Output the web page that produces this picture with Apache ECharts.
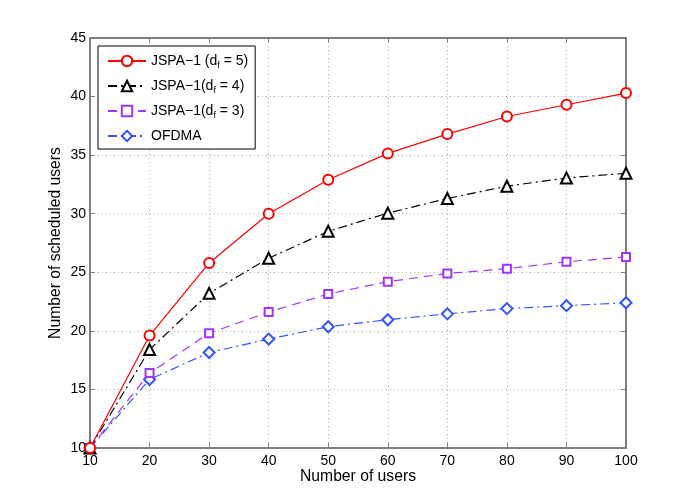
<!DOCTYPE html>
<html>
<head>
<meta charset="UTF-8">
<script src="https://cdn.jsdelivr.net/npm/echarts@6/dist/echarts.min.js"></script>
<style>
  html, body { margin: 0; padding: 0; background: #fff; }
  #main { width: 692px; height: 504px; }
</style>
</head>
<body>
<div id="main"></div>
<script>
// number of users on the x axis
let users = [10, 20, 30, 40, 50, 60, 70, 80, 90, 100];

// values
let jspaDf5 = [10, 19.6, 25.8, 30.0, 32.9, 35.15, 36.8, 38.3, 39.3, 40.3];
let jspaDf4 = [10, 18.4, 23.2, 26.2, 28.5, 30.05, 31.3, 32.35, 33.05, 33.45];
let jspaDf3 = [10, 16.4, 19.8, 21.6, 23.15, 24.2, 24.9, 25.3, 25.9, 26.3];
let ofdma   = [10, 15.85, 18.15, 19.3, 20.35, 20.95, 21.45, 21.9, 22.15, 22.4];

let seriesNames = ['JSPA−1 (df = 5)', 'JSPA−1(df = 4)', 'JSPA−1(df = 3)', 'OFDMA'];
let legendRich = [
    '{a|JSPA−1 (d}{s|f}{a| = 5)}',
    '{a|JSPA−1(d}{s|f}{a| = 4)}',
    '{a|JSPA−1(d}{s|f}{a| = 3)}',
    '{a|OFDMA}'
];

let myChart = echarts.init(document.getElementById('main'));

function pairs(ys) {
    return users.map(function (x, i) { return [x, ys[i]]; });
}

let font = 'Liberation Sans, Arial, sans-serif';
let boxColor = '#7f7f7f';
let gridLine = { show: true, lineStyle: { color: '#b0b0b0', type: [1, 3], width: 1 } };

myChart.setOption({
    animation: false,
    backgroundColor: '#fff',
    grid: { left: 90, right: 66, top: 38, bottom: 56 },
    legend: {
        orient: 'vertical',
        left: 98,
        top: 46,
        itemWidth: 38,
        itemHeight: 13,
        itemGap: 9,
        padding: [8, 7, 6, 9],
        backgroundColor: '#fff',
        borderColor: '#000',
        borderWidth: 1,
        borderRadius: 0,
        data: seriesNames,
        formatter: function (name) {
            return legendRich[seriesNames.indexOf(name)];
        },
        textStyle: {
            fontFamily: font,
            fontSize: 14,
            color: '#000',
            rich: {
                a: { fontFamily: font, fontSize: 14, lineHeight: 18, color: '#000' },
                s: { fontFamily: font, fontSize: 9, lineHeight: 9, color: '#000', verticalAlign: 'bottom' }
            }
        }
    },
    xAxis: [{
        type: 'value',
        min: 10, max: 100, interval: 10,
        name: 'Number of users',
        nameLocation: 'middle',
        nameGap: 21,
        nameMoveOverlap: false,
        nameTextStyle: { fontFamily: font, fontSize: 15.7, color: '#000' },
        axisLine: { show: true, lineStyle: { color: boxColor, width: 2 } },
        axisTick: { show: true, inside: true, length: 5, lineStyle: { color: boxColor } },
        axisLabel: { fontFamily: font, fontSize: 14, color: '#000', margin: 6 },
        splitLine: gridLine
    }, {
        type: 'value', position: 'top',
        min: 10, max: 100, interval: 10,
        axisLine: { show: true, lineStyle: { color: boxColor, width: 2 } },
        axisTick: { show: true, inside: true, length: 5, lineStyle: { color: boxColor } },
        axisLabel: { show: false },
        splitLine: { show: false }
    }],
    yAxis: [{
        type: 'value',
        min: 10, max: 45, interval: 5,
        name: 'Number of scheduled users',
        nameLocation: 'middle',
        nameGap: 26,
        nameMoveOverlap: false,
        nameTextStyle: { fontFamily: font, fontSize: 15.7, color: '#000' },
        axisLine: { show: true, lineStyle: { color: boxColor, width: 2 } },
        axisTick: { show: true, inside: true, length: 5, lineStyle: { color: boxColor } },
        axisLabel: { fontFamily: font, fontSize: 14, color: '#000', margin: 4 },
        splitLine: gridLine
    }, {
        type: 'value', position: 'right',
        min: 10, max: 45, interval: 5,
        axisLine: { show: true, lineStyle: { color: boxColor, width: 2 } },
        axisTick: { show: true, inside: true, length: 5, lineStyle: { color: boxColor } },
        axisLabel: { show: false },
        splitLine: { show: false }
    }],
    series: [
        {
            name: seriesNames[0], type: 'line', data: pairs(jspaDf5),
            symbol: 'emptyCircle', symbolSize: 10, color: '#ff0000',
            lineStyle: { color: '#ff0000', width: 1.2, type: 'solid' },
            itemStyle: { color: '#ff0000', borderWidth: 1.2 }, z: 4
        },
        {
            name: seriesNames[1], type: 'line', data: pairs(jspaDf4),
            symbol: 'emptyTriangle', symbolSize: 11, color: '#000000',
            lineStyle: { color: '#000000', width: 1.2, type: [9, 4, 2, 4] },
            itemStyle: { color: '#000000', borderWidth: 1.5 }, z: 3
        },
        {
            name: seriesNames[2], type: 'line', data: pairs(jspaDf3),
            symbol: 'emptyRect', symbolSize: 8, color: '#a033ff',
            lineStyle: { color: '#a033ff', width: 1.2, type: [9, 6] },
            itemStyle: { color: '#a033ff', borderWidth: 1.3 }, z: 2
        },
        {
            name: seriesNames[3], type: 'line', data: pairs(ofdma),
            symbol: 'emptyDiamond', symbolSize: 11, color: '#3355ff',
            lineStyle: { color: '#3355ff', width: 1.2, type: [9, 4, 2, 4] },
            itemStyle: { color: '#3355ff', borderWidth: 1.3 }, z: 1
        }
    ]
});
</script>
</body>
</html>
